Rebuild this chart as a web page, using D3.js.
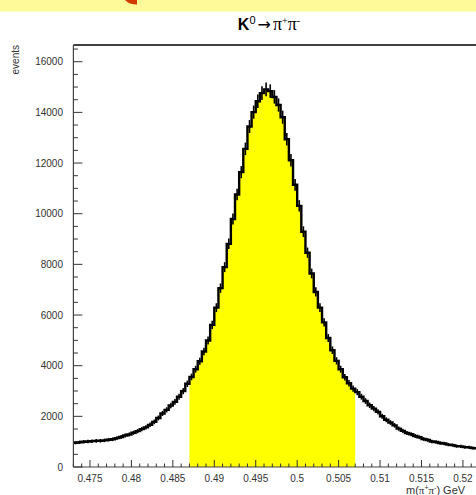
<!DOCTYPE html>
<html>
<head>
<meta charset="utf-8">
<script src="https://cdn.jsdelivr.net/npm/d3@7"></script>
<style>
  body { margin: 0; background: #fff; overflow: hidden; }
  svg { display: block; }
</style>
</head>
<body>
<svg id="chart"></svg>
<script>
// histogram: 100 bins of 0.0005 GeV from 0.473 to 0.523
var binLow = 0.473;
var binWidth = 0.0005;
var counts = [
  960, 975, 995, 1005, 1020, 1030, 1035, 1050, 1075, 1095,
  1140, 1185, 1245, 1285, 1350, 1415, 1495, 1565, 1665, 1780,
  1935, 2115, 2255, 2425, 2570, 2775, 2995, 3285, 3555, 3860,
  4175, 4560, 4995, 5610, 6290, 7060, 7890, 8810, 9790, 10760,
  11640, 12560, 13440, 14010, 14440, 14760, 14910, 14840, 14610, 14290,
  13810, 12940, 12110, 11140, 10310, 9290, 8460, 7640, 6910, 6290,
  5710, 5090, 4610, 4190, 3860, 3545, 3305, 3095, 2955, 2775,
  2605, 2435, 2305, 2175, 2005, 1865, 1755, 1645, 1515, 1425,
  1345, 1295, 1225, 1175, 1105, 1065, 1005, 985, 945, 925,
  885, 865, 825, 815, 785, 775, 745, 740, 725, 705
];
var windowLow = 0.487;
var windowHigh = 0.507;

var xTicks = [0.475, 0.48, 0.485, 0.49, 0.495, 0.5, 0.505, 0.51, 0.515, 0.52];
var xTickLabels = ["0.475", "0.48", "0.485", "0.49", "0.495", "0.5", "0.505", "0.51", "0.515", "0.52"];
var yTicks = [0, 2000, 4000, 6000, 8000, 10000, 12000, 14000, 16000];

var W = 476, H = 495;
var padL = 73.4, padR = 487.8, padT = 45, padB = 467;

var svg = d3.select("#chart").attr("width", W).attr("height", H);

// banner strip at the very top
svg.append("rect").attr("x", 0).attr("y", 0).attr("width", W).attr("height", 11.5).attr("fill", "#fffa99");
svg.append("path").attr("d", "M125,0 L137,0 L137,4.5 Q129,4.5 125,0 Z").attr("fill", "#d23a00");

var x = d3.scaleLinear().domain([0.473, 0.523]).range([padL, padR]);
var y = d3.scaleLinear().domain([0, 16660]).range([padB, padT]);

var bins = counts.map(function(c, i) {
  return { lo: binLow + i * binWidth, hi: binLow + (i + 1) * binWidth, mid: binLow + (i + 0.5) * binWidth, v: c };
});

// yellow signal window under the histogram
var inWin = bins.filter(function(b) { return b.lo >= windowLow - 1e-9 && b.hi <= windowHigh + 1e-9; });
var area = d3.area()
  .x(function(d) { return x(d[0]); })
  .y0(y(0))
  .y1(function(d) { return y(d[1]); });
var areaPts = [];
inWin.forEach(function(b) { areaPts.push([b.lo, b.v]); areaPts.push([b.hi, b.v]); });
svg.append("path").attr("d", area(areaPts)).attr("fill", "#ffff00");

// data points: thick step line with error bars
var stepPts = [];
bins.forEach(function(b) { stepPts.push([b.lo, b.v]); stepPts.push([b.hi, b.v]); });
var line = d3.line().x(function(d) { return x(d[0]); }).y(function(d) { return y(d[1]); });
svg.append("path").attr("d", line(stepPts))
  .attr("fill", "none").attr("stroke", "#000").attr("stroke-width", 2.4).attr("stroke-linejoin", "miter");

svg.selectAll(".err").data(bins).enter().append("line")
  .attr("class", "err")
  .attr("x1", function(d) { return x(d.mid); }).attr("x2", function(d) { return x(d.mid); })
  .attr("y1", function(d) { return y(d.v + 2.2 * Math.sqrt(d.v)); })
  .attr("y2", function(d) { return y(d.v - 2.2 * Math.sqrt(d.v)); })
  .attr("stroke", "#000").attr("stroke-width", 1.6);

// frame
svg.append("line").attr("x1", padL).attr("x2", W).attr("y1", padT).attr("y2", padT)
  .attr("stroke", "#000").attr("stroke-width", 1.5);
svg.append("line").attr("x1", padL).attr("x2", padL).attr("y1", padT).attr("y2", padB)
  .attr("stroke", "#444").attr("stroke-width", 1.2);
svg.append("line").attr("x1", padL).attr("x2", W).attr("y1", padB).attr("y2", padB)
  .attr("stroke", "#444").attr("stroke-width", 1.2);

// y axis ticks (inward)
var yMinor = d3.range(0, 16660, 500);
svg.selectAll(".ytk").data(yMinor).enter().append("line")
  .attr("x1", padL).attr("x2", function(d) { return padL + (d % 2000 === 0 ? 9 : 4.5); })
  .attr("y1", function(d) { return y(d); }).attr("y2", function(d) { return y(d); })
  .attr("stroke", "#333").attr("stroke-width", 1);
svg.selectAll(".ylab").data(yTicks).enter().append("text")
  .attr("x", 63).attr("y", function(d) { return y(d) + 3.5; })
  .attr("text-anchor", "end")
  .style("font-family", "'Liberation Sans', Arial, sans-serif").style("font-size", "10px").style("fill", "#333")
  .text(function(d) { return d; });

// x axis ticks (inward)
var xMinor = d3.range(0, 51).map(function(i) { return 0.473 + i * 0.001; });
svg.selectAll(".xtk").data(xMinor).enter().append("line")
  .attr("x1", function(d) { return x(d); }).attr("x2", function(d) { return x(d); })
  .attr("y1", padB).attr("y2", function(d) {
    var major = Math.abs(Math.round(d / 0.005) * 0.005 - d) < 1e-7;
    return padB - (major ? 7 : 3.5);
  })
  .attr("stroke", "#333").attr("stroke-width", 1);
svg.selectAll(".xlab").data(xTicks).enter().append("text")
  .attr("x", function(d) { return x(d); }).attr("y", 482)
  .attr("text-anchor", "middle")
  .style("font-family", "'Liberation Sans', Arial, sans-serif").style("font-size", "10px").style("fill", "#333")
  .text(function(d, i) { return xTickLabels[i]; });

// axis titles
svg.append("text")
  .attr("transform", "translate(19," + padT + ") rotate(-90)")
  .attr("text-anchor", "end")
  .style("font-family", "'Liberation Sans', Arial, sans-serif").style("font-size", "10px").style("fill", "#333")
  .text("events");

// x title runs past the right edge, as in the source
var xt = svg.append("text").attr("x", 406).attr("y", 494).attr("text-anchor", "start")
  .style("font-family", "'Liberation Sans', Arial, sans-serif").style("font-size", "11px").style("fill", "#333");
xt.append("tspan").text("m(");
xt.append("tspan").style("font-family", "'Liberation Serif', serif").text("π");
xt.append("tspan").attr("dy", -4).style("font-size", "7px").text("+");
xt.append("tspan").attr("dy", 4).style("font-family", "'Liberation Serif', serif").text("π");
xt.append("tspan").attr("dy", -4).style("font-size", "7px").text("-");
xt.append("tspan").attr("dy", 4).text(") GeV");

// title
var tt = svg.append("text").attr("x", 269).attr("y", 30).attr("text-anchor", "middle")
  .style("font-family", "'Liberation Serif', serif").style("font-size", "18px").style("fill", "#000");
tt.append("tspan").style("font-family", "'Liberation Sans', Arial, sans-serif").style("font-weight", "bold").style("font-size", "16px").text("K");
tt.append("tspan").attr("dy", -6).style("font-family", "'Liberation Sans', Arial, sans-serif").style("font-size", "11px").text("0");
tt.append("tspan").attr("dy", 6).attr("dx", 2).style("font-family", "'DejaVu Sans', sans-serif").style("font-size", "16px").text("→");
tt.append("tspan").attr("dx", 2).text("π");
tt.append("tspan").attr("dy", -6).style("font-size", "10px").text("+");
tt.append("tspan").attr("dy", 6).text("π");
tt.append("tspan").attr("dy", -6).style("font-size", "10px").text("-");
</script>
</body>
</html>
